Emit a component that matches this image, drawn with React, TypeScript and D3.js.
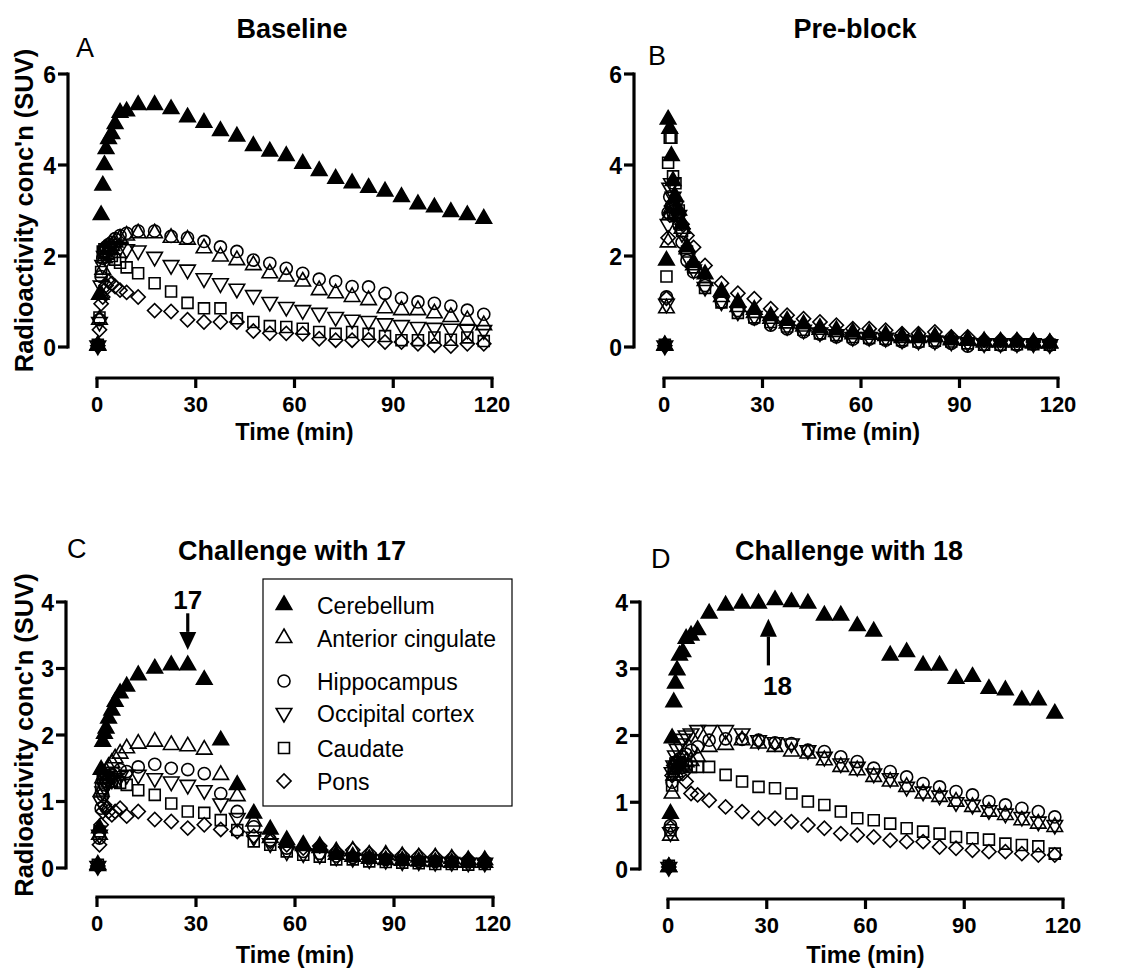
import React from "react";
import * as d3 from "d3";

// frame mid-times (min)
const TIME = [0.25, 0.75, 1.25, 1.75, 2.25, 2.75, 3.5, 4.5, 5.5, 7, 9, 12.5, 17.5, 22.5, 27.5, 32.5, 37.5, 42.5, 47.5, 52.5, 57.5, 62.5, 67.5, 72.5, 77.5, 82.5, 87.5, 92.5, 97.5, 102.5, 107.5, 112.5, 117.5];

const REGIONS = ["Cerebellum", "Anterior cingulate", "Hippocampus", "Occipital cortex", "Caudate", "Pons"];
const X_TICKS = [0, 30, 60, 90, 120];
const Y_TICKS_TOP = [0, 2, 4, 6];
const Y_TICKS_BOTTOM = [0, 1, 2, 3, 4];

// A - Baseline
const baseCerebellum = [0.04, 1.15, 2.9, 3.55, 4.0, 4.35, 4.57, 4.68, 4.9, 5.15, 5.18, 5.32, 5.32, 5.23, 5.05, 4.93, 4.75, 4.63, 4.42, 4.3, 4.2, 4.03, 3.87, 3.7, 3.6, 3.5, 3.42, 3.3, 3.14, 3.07, 2.97, 2.9, 2.82];
const baseAntCing = [0.03, 0.6, 1.15, 1.7, 1.95, 2.05, 2.15, 2.22, 2.3, 2.38, 2.45, 2.5, 2.5, 2.4, 2.36, 2.17, 1.99, 1.91, 1.8, 1.62, 1.55, 1.44, 1.25, 1.18, 1.1, 1.03, 0.85, 0.81, 0.81, 0.74, 0.66, 0.59, 0.48];
const baseHippo = [0.04, 0.6, 1.55, 1.95, 2.1, 2.2, 2.25, 2.3, 2.38, 2.45, 2.5, 2.55, 2.55, 2.43, 2.4, 2.32, 2.2, 2.1, 1.91, 1.84, 1.73, 1.62, 1.49, 1.44, 1.33, 1.32, 1.18, 1.07, 0.99, 0.96, 0.9, 0.81, 0.72];
const baseOccip = [0.03, 0.55, 1.35, 1.8, 2.0, 2.1, 2.15, 2.2, 2.22, 2.2, 2.15, 2.12, 1.98, 1.8, 1.7, 1.51, 1.4, 1.28, 1.14, 0.99, 0.88, 0.81, 0.75, 0.66, 0.6, 0.57, 0.52, 0.48, 0.44, 0.42, 0.4, 0.38, 0.37];
const baseCaudate = [0.05, 0.65, 1.65, 2.1, 2.15, 2.1, 2.05, 2.0, 1.92, 1.85, 1.75, 1.62, 1.4, 1.22, 0.97, 0.85, 0.85, 0.63, 0.55, 0.46, 0.44, 0.4, 0.33, 0.29, 0.33, 0.29, 0.24, 0.15, 0.15, 0.21, 0.16, 0.21, 0.13];
const basePons = [0.03, 0.38, 0.95, 1.1, 1.25, 1.35, 1.44, 1.4, 1.33, 1.25, 1.2, 1.1, 0.8, 0.78, 0.6, 0.55, 0.55, 0.55, 0.35, 0.3, 0.3, 0.29, 0.18, 0.15, 0.15, 0.16, 0.11, 0.11, 0.07, 0.04, 0.02, 0.07, 0.07];

// B - Pre-block
const preCerebellum = [0.04, 1.9, 5.0, 4.8, 4.2, 3.65, 3.3, 3.0, 2.7, 2.2, 1.85, 1.6, 1.22, 0.98, 0.82, 0.68, 0.58, 0.5, 0.42, 0.37, 0.32, 0.3, 0.27, 0.23, 0.22, 0.22, 0.17, 0.16, 0.13, 0.12, 0.12, 0.1, 0.09];
const preAntCing = [0.03, 0.85, 2.3, 2.9, 3.05, 3.05, 2.95, 2.85, 2.6, 2.15, 1.8, 1.45, 1.1, 0.88, 0.75, 0.62, 0.52, 0.45, 0.38, 0.33, 0.28, 0.27, 0.24, 0.2, 0.2, 0.22, 0.15, 0.14, 0.1, 0.1, 0.1, 0.08, 0.08];
const preHippo = [0.04, 1.1, 2.95, 3.3, 3.1, 2.95, 2.9, 2.7, 2.3, 1.9, 1.65, 1.35, 0.98, 0.8, 0.62, 0.48, 0.4, 0.33, 0.28, 0.22, 0.17, 0.17, 0.15, 0.12, 0.1, 0.1, 0.08, 0.02, 0.05, 0.04, 0.04, 0.06, 0.04];
const preOccip = [0.03, 0.95, 2.7, 3.5, 3.6, 3.3, 3.1, 2.9, 2.5, 2.0, 1.7, 1.32, 1.0, 0.78, 0.68, 0.56, 0.46, 0.38, 0.32, 0.28, 0.22, 0.22, 0.2, 0.16, 0.14, 0.14, 0.12, 0.1, 0.08, 0.08, 0.08, 0.08, 0.06];
const preCaudate = [0.05, 1.55, 4.05, 4.6, 4.6, 3.75, 3.6, 3.0, 2.55, 2.1, 1.75, 1.3, 0.98, 0.75, 0.65, 0.55, 0.45, 0.38, 0.3, 0.26, 0.22, 0.2, 0.18, 0.15, 0.12, 0.14, 0.12, 0.08, 0.05, 0.05, 0.06, 0.06, 0.05];
const prePons = [0.03, 1.07, 2.4, 2.9, 3.1, 3.1, 3.05, 2.9, 2.7, 2.45, 2.19, 1.79, 1.4, 1.18, 1.06, 0.84, 0.7, 0.62, 0.55, 0.48, 0.4, 0.4, 0.37, 0.29, 0.29, 0.33, 0.22, 0.22, 0.15, 0.15, 0.15, 0.11, 0.11];

// C - Challenge with 17
const c17Cerebellum = [0.05, 0.6, 1.48, 1.9, 2.02, 2.1, 2.25, 2.37, 2.5, 2.63, 2.73, 2.9, 3.0, 3.05, 3.05, 2.83, 1.92, 1.25, 0.82, 0.58, 0.42, 0.35, 0.3, 0.2, 0.17, 0.14, 0.12, 0.11, 0.1, 0.09, 0.08, 0.08, 0.08];
const c17AntCing = [0.03, 0.5, 1.15, 1.35, 1.4, 1.45, 1.52, 1.58, 1.65, 1.72, 1.8, 1.87, 1.9, 1.85, 1.83, 1.78, 1.4, 1.08, 0.7, 0.45, 0.38, 0.33, 0.33, 0.25, 0.26, 0.2, 0.2, 0.18, 0.16, 0.16, 0.14, 0.12, 0.12];
const c17Hippo = [0.04, 0.45, 0.9, 1.1, 1.25, 1.3, 1.33, 1.4, 1.42, 1.48, 1.45, 1.52, 1.56, 1.5, 1.48, 1.42, 1.12, 0.85, 0.62, 0.42, 0.3, 0.25, 0.22, 0.18, 0.16, 0.15, 0.13, 0.12, 0.1, 0.1, 0.09, 0.09, 0.08];
const c17Occip = [0.03, 0.5, 1.0, 1.15, 1.22, 1.28, 1.3, 1.33, 1.35, 1.38, 1.4, 1.4, 1.35, 1.3, 1.25, 1.17, 0.97, 0.75, 0.47, 0.37, 0.25, 0.22, 0.2, 0.17, 0.15, 0.13, 0.12, 0.1, 0.1, 0.09, 0.09, 0.08, 0.08];
const c17Caudate = [0.05, 0.55, 1.2, 1.35, 1.4, 1.35, 1.35, 1.3, 1.3, 1.28, 1.25, 1.17, 1.1, 0.97, 0.85, 0.83, 0.72, 0.57, 0.4, 0.35, 0.25, 0.2, 0.17, 0.13, 0.13, 0.1, 0.09, 0.08, 0.07, 0.06, 0.06, 0.05, 0.06];
const c17Pons = [0.03, 0.35, 0.65, 0.85, 0.95, 0.9, 0.85, 0.8, 0.85, 0.9, 0.78, 0.85, 0.73, 0.7, 0.6, 0.65, 0.58, 0.55, 0.48, 0.4, 0.35, 0.3, 0.33, 0.25, 0.27, 0.22, 0.2, 0.19, 0.18, 0.17, 0.15, 0.13, 0.12];

// D - Challenge with 18
const c18Cerebellum = [0.03, 0.83, 1.96, 2.5, 2.78, 2.98, 3.2, 3.25, 3.45, 3.5, 3.58, 3.83, 3.95, 3.98, 3.98, 4.03, 4.0, 3.98, 3.8, 3.8, 3.64, 3.56, 3.2, 3.25, 3.05, 3.05, 2.85, 2.88, 2.7, 2.68, 2.53, 2.53, 2.33];
const c18AntCing = [0.03, 0.5, 1.13, 1.4, 1.45, 1.5, 1.52, 1.55, 1.6, 1.62, 1.68, 1.83, 1.86, 1.93, 1.88, 1.83, 1.76, 1.73, 1.63, 1.53, 1.48, 1.38, 1.31, 1.23, 1.13, 1.08, 1.01, 0.93, 0.86, 0.81, 0.73, 0.68, 0.63];
const c18Hippo = [0.04, 0.65, 1.3, 1.45, 1.55, 1.6, 1.65, 1.68, 1.72, 1.78, 1.83, 1.93, 1.95, 1.94, 1.93, 1.89, 1.88, 1.78, 1.76, 1.68, 1.61, 1.51, 1.46, 1.38, 1.28, 1.23, 1.16, 1.11, 1.01, 0.96, 0.91, 0.86, 0.78];
const c18Occip = [0.03, 0.55, 1.45, 1.55, 1.7, 1.8, 1.88, 1.95, 2.0, 2.03, 2.08, 2.08, 2.08, 2.03, 1.93, 1.9, 1.88, 1.78, 1.68, 1.58, 1.53, 1.43, 1.36, 1.23, 1.16, 1.1, 1.0, 0.96, 0.88, 0.83, 0.78, 0.71, 0.66];
const c18Caudate = [0.05, 0.58, 1.25, 1.5, 1.58, 1.6, 1.6, 1.58, 1.55, 1.53, 1.53, 1.53, 1.41, 1.31, 1.23, 1.21, 1.13, 1.01, 0.96, 0.86, 0.76, 0.73, 0.68, 0.61, 0.56, 0.53, 0.48, 0.46, 0.44, 0.38, 0.36, 0.34, 0.23];
const c18Pons = [0.03, 0.62, 1.4, 1.55, 1.6, 1.6, 1.55, 1.43, 1.31, 1.13, 1.11, 1.03, 0.93, 0.86, 0.76, 0.76, 0.71, 0.66, 0.61, 0.53, 0.51, 0.48, 0.43, 0.41, 0.41, 0.33, 0.31, 0.28, 0.26, 0.26, 0.23, 0.21, 0.21];

const FONT = "'Liberation Sans', Arial, Helvetica, sans-serif";

// marker shapes, same order as REGIONS
const MARKERS = [
  { d: d3.symbol(d3.symbolTriangle, 105)(), rot: 0, fill: "#000" },
  { d: d3.symbol(d3.symbolTriangle, 105)(), rot: 0, fill: "none" },
  { d: d3.symbol(d3.symbolCircle, 115)(), rot: 0, fill: "none" },
  { d: d3.symbol(d3.symbolTriangle, 105)(), rot: 180, fill: "none" },
  { d: d3.symbol(d3.symbolSquare, 120)(), rot: 0, fill: "none" },
  { d: d3.symbol(d3.symbolSquare, 100)(), rot: 45, fill: "none" },
];

function Marker({ i, cx, cy }) {
  const m = MARKERS[i];
  return (
    <path
      d={m.d}
      transform={`translate(${cx},${cy}) rotate(${m.rot})`}
      fill={m.fill}
      stroke="#000"
      strokeWidth={1.6}
    />
  );
}

function Panel({ lay, yMax, yTicks, series, title, letter, yLabel, children }) {
  const x = d3.scaleLinear().domain([0, 120]).range([lay.x0, lay.x1]);
  const y = d3.scaleLinear().domain([0, yMax]).range([lay.y0, lay.yTop]);
  const drawOrder = [5, 4, 3, 2, 1, 0];
  return (
    <g>
      <text x={lay.titleX} y={lay.titleY} textAnchor="middle" fontWeight="bold" fontSize={27}>{title}</text>
      <text x={lay.letterX} y={lay.letterY} fontSize={27}>{letter}</text>
      {/* y axis */}
      <line x1={lay.axisX} x2={lay.axisX} y1={y(yMax) - 1.5} y2={y(0) + 1.5} stroke="#000" strokeWidth={3.2} />
      {yTicks.map((t) => (
        <g key={t}>
          <line x1={lay.axisX - 10} x2={lay.axisX} y1={y(t)} y2={y(t)} stroke="#000" strokeWidth={3.2} />
          <text x={lay.axisX - 12} y={y(t) + 8.5} textAnchor="end" fontWeight="bold" fontSize={23}>{t}</text>
        </g>
      ))}
      {/* x axis */}
      <line x1={x(0) - 1.6} x2={x(120) + 1.6} y1={lay.xAxisY} y2={lay.xAxisY} stroke="#000" strokeWidth={3.2} />
      {X_TICKS.map((t) => (
        <g key={t}>
          <line x1={x(t)} x2={x(t)} y1={lay.xAxisY} y2={lay.xAxisY + 10} stroke="#000" strokeWidth={3.2} />
          <text x={x(t)} y={lay.xAxisY + 34} textAnchor="middle" fontWeight="bold" fontSize={22}>{t}</text>
        </g>
      ))}
      <text x={(x(0) + x(120)) / 2} y={lay.xTitleY} textAnchor="middle" fontWeight="bold" fontSize={23.5}>Time (min)</text>
      {yLabel && (
        <text
          transform={`translate(${lay.yTitleX},${(y(0) + y(yMax)) / 2}) rotate(-90)`}
          textAnchor="middle"
          fontWeight="bold"
          fontSize={25.5}
        >
          Radioactivity conc'n (SUV)
        </text>
      )}
      {drawOrder.map((si) => (
        <g key={si}>
          {series[si].map((v, k) => (
            <Marker key={k} i={si} cx={x(TIME[k])} cy={y(v)} />
          ))}
        </g>
      ))}
      {children && children(x, y)}
    </g>
  );
}

function Arrow({ x, yFrom, yTip }) {
  const dir = yTip > yFrom ? 1 : -1;
  const head = 18;
  const hw = 8.5;
  return (
    <g>
      <line x1={x} x2={x} y1={yFrom} y2={yTip - dir * head} stroke="#000" strokeWidth={3.2} />
      <path d={`M${x - hw},${yTip - dir * head} L${x + hw},${yTip - dir * head} L${x},${yTip} Z`} fill="#000" />
    </g>
  );
}

function Legend() {
  const left = 263;
  const top = 579;
  const rows = [26, 59, 102, 134, 169, 202];
  return (
    <g>
      <rect x={left} y={top} width={249} height={227} fill="#fff" stroke="#000" strokeWidth={1.2} />
      {REGIONS.map((r, i) => (
        <g key={r}>
          <Marker i={i} cx={left + 21} cy={top + rows[i]} />
          <text x={left + 54} y={top + rows[i] + 8.5} fontSize={23}>{r}</text>
        </g>
      ))}
    </g>
  );
}

export default function App() {
  const layA = { axisX: 68, x0: 97, x1: 492, y0: 347, yTop: 74, xAxisY: 378, titleX: 292, titleY: 38, letterX: 76, letterY: 57, xTitleY: 440, yTitleX: 33 };
  const layB = { axisX: 634, x0: 664, x1: 1058, y0: 347, yTop: 74, xAxisY: 378, titleX: 855, titleY: 38, letterX: 648, letterY: 65, xTitleY: 440, yTitleX: 0 };
  const layC = { axisX: 66, x0: 97, x1: 493, y0: 868, yTop: 602, xAxisY: 897, titleX: 292, titleY: 560, letterX: 67, letterY: 558, xTitleY: 963, yTitleX: 33 };
  const layD = { axisX: 640, x0: 668, x1: 1063, y0: 869, yTop: 602, xAxisY: 899, titleX: 849, titleY: 560, letterX: 651, letterY: 568, xTitleY: 963, yTitleX: 0 };

  return (
    <svg
      width={1125}
      height={971}
      style={{ position: "absolute", left: 0, top: 0, background: "#fff" }}
      fontFamily={FONT}
    >
      <rect width={1125} height={971} fill="#fff" />
      <Panel lay={layA} yMax={6} yTicks={Y_TICKS_TOP} title="Baseline" letter="A" yLabel
        series={[baseCerebellum, baseAntCing, baseHippo, baseOccip, baseCaudate, basePons]} />
      <Panel lay={layB} yMax={6} yTicks={Y_TICKS_TOP} title="Pre-block" letter="B"
        series={[preCerebellum, preAntCing, preHippo, preOccip, preCaudate, prePons]} />
      <Panel lay={layC} yMax={4} yTicks={Y_TICKS_BOTTOM} title="Challenge with 17" letter="C" yLabel
        series={[c17Cerebellum, c17AntCing, c17Hippo, c17Occip, c17Caudate, c17Pons]}>
        {(x, y) => (
          <g>
            <text x={x(27.5)} y={y(3.9)} textAnchor="middle" fontWeight="bold" fontSize={26}>17</text>
            <Arrow x={x(27.5)} yFrom={y(3.83)} yTip={y(3.28)} />
          </g>
        )}
      </Panel>
      <Panel lay={layD} yMax={4} yTicks={Y_TICKS_BOTTOM} title="Challenge with 18" letter="D"
        series={[c18Cerebellum, c18AntCing, c18Hippo, c18Occip, c18Caudate, c18Pons]}>
        {(x, y) => (
          <g>
            <Arrow x={x(30.5)} yFrom={y(3.05)} yTip={y(3.75)} />
            <text x={x(30.5) + 9} y={y(2.6)} textAnchor="middle" fontWeight="bold" fontSize={26}>18</text>
          </g>
        )}
      </Panel>
      <Legend />
    </svg>
  );
}
